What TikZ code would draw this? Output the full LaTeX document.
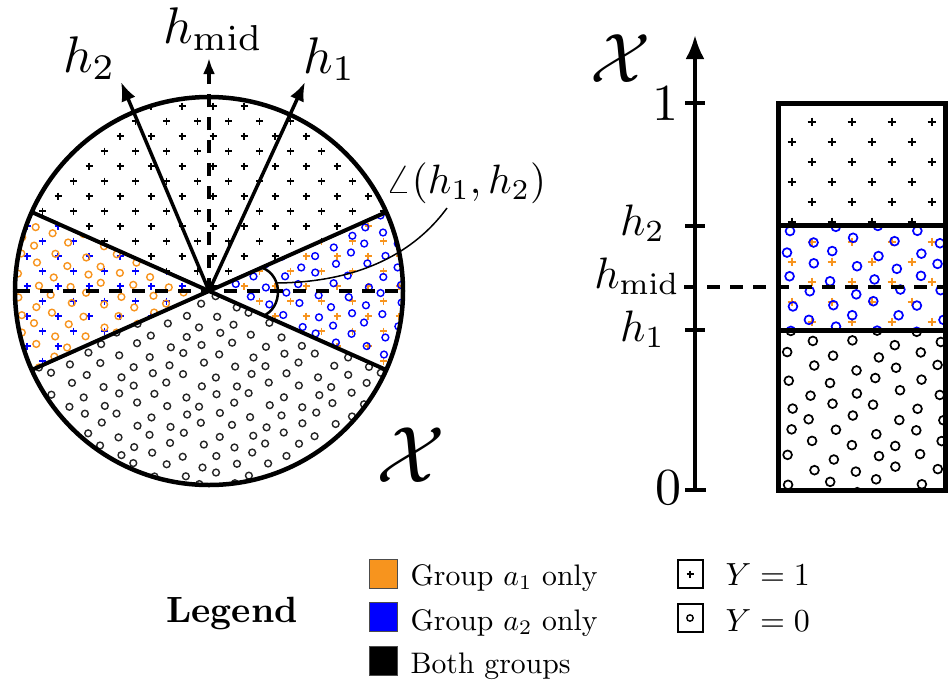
\documentclass[tikz,border=0pt]{standalone}
\usetikzlibrary{arrows.meta}
\definecolor{orng}{RGB}{247,148,30}
\definecolor{blu}{RGB}{0,0,255}

% plus grid over the disc
\newcommand\plusgrid[1]{%
 \foreach \k in {-11,...,15}{%
   \foreach \m in {-1,...,13}{%
     \pgfmathsetmacro\px{27+31*\m+15.5*mod(\k+22,2)}%
     \pgfmathsetmacro\py{256+15*\k}%
     \pic[#1] at (\px,\py) {pl};%
 }}}
% jittered circle grid over the disc
\newcommand\circgrid[1]{%
 \foreach \k in {0,...,40}{%
   \foreach \m in {-1,...,12}{%
     \pgfmathsetmacro\px{20+33*\m+16.5*mod(\k,2)+2.5*sin(137*\k+71*\m)}%
     \pgfmathsetmacro\py{95+10*\k+2.5*cos(53*\k+113*\m)}%
     \draw[#1,line width=1.4pt] (\px,\py) circle[radius=3.4];%
 }}}
% plus grid in the box
\newcommand\boxplusgrid[1]{%
 \foreach \k in {0,...,10}{%
   \foreach \m in {-1,...,4}{%
     \pgfmathsetmacro\px{812+40*\m-20*mod(\k,2)}%
     \pgfmathsetmacro\py{122+20*\k}%
     \pic[#1] at (\px,\py) {plb};%
 }}}
% circle grid in the box
\newcommand\boxcircgrid[1]{%
 \foreach \k in {0,...,22}{%
   \foreach \m in {-1,...,4}{%
     \pgfmathsetmacro\px{790+43*\m+21.5*mod(\k,2)+3*sin(137*\k+71*\m)}%
     \pgfmathsetmacro\py{228+12.7*\k+3*cos(53*\k+113*\m)}%
     \draw[#1,line width=1.7pt] (\px,\py) circle[radius=4.4];%
 }}}

\begin{document}
\begin{tikzpicture}[x=1pt,y=-1pt,
  pl/.pic={\draw[line width=1.4pt] (-3.5,0)--(3.5,0) (0,-3.5)--(0,3.5);},
  plb/.pic={\draw[line width=1.7pt] (-4.3,0)--(4.3,0) (0,-4.3)--(0,4.3);},
  bold line/.style={line width=4pt},
  hdash/.style={line width=4pt, dash pattern=on 13pt off 10pt},
  lbl/.style={anchor=base west, inner sep=0, scale=5.15},
  axlbl/.style={anchor=base east, inner sep=0, scale=4.4},
  numlbl/.style={anchor=east, inner sep=0, scale=5.2},
  legtxt/.style={anchor=base west, inner sep=0, scale=2.97},
  ytxt/.style={anchor=base west, inner sep=0, scale=3.2},
]
\useasboundingbox (0,0) rectangle (948,681);

% ---------- disc ----------
\coordinate (C) at (209,291);
\coordinate (P24) at (386.2,212.1);
\coordinate (P156) at (31.8,212.1);
\coordinate (P204) at (31.8,369.9);
\coordinate (P336) at (386.2,369.9);

\begin{scope}
  \clip (C) -- (P24) arc[start angle=-24, end angle=-156, radius=194] -- cycle;
  \plusgrid{black}
\end{scope}
\begin{scope}
  \clip (C) -- (P336) arc[start angle=24, end angle=-24, radius=194] -- cycle;
  \plusgrid{orng}
  \circgrid{blu}
\end{scope}
\begin{scope}
  \clip (C) -- (P156) arc[start angle=-156, end angle=-204, radius=194] -- cycle;
  \plusgrid{blu}
  \circgrid{orng}
\end{scope}
\begin{scope}
  \clip (C) -- (P204) arc[start angle=-204, end angle=-336, radius=194] -- cycle;
  \circgrid{black!85}
\end{scope}

\draw[hdash] (17,291) -- (401,291);
\draw[bold line] (P24) -- (C) -- (P156) (P204) -- (C) -- (P336);
\draw[line width=4.5pt] (C) circle[radius=194];

\coordinate (h1tip) at (305,82);
\coordinate (h2tip) at (121,82);
\coordinate (hmtip) at (209,58);
\draw[line width=3.5pt, -{Latex[length=19pt,width=15pt]}] (C) -- (h1tip);
\draw[line width=3.5pt, -{Latex[length=19pt,width=15pt]}] (C) -- (h2tip);
\draw[hdash, -{Latex[length=16pt,width=12pt]}] (C) -- (hmtip);

% angle arc and its label
\coordinate (A1) at (262.8,268);
\coordinate (A2) at (262.8,316);
\draw[line width=2.5pt] (A1) .. controls (283,276) and (283,308) .. (A2);
\coordinate (Aon) at (277,283);
\coordinate (Aend) at (447,208);
\draw[line width=1.5pt] (Aon) .. controls (370,282) and (420,245) .. (Aend);

\node[lbl] (lh2) at (62,72) {$h_2$};
\node[lbl] (lhm) at (162,43) {$h_{\mathrm{mid}}$};
\node[lbl] (lh1) at (302,73) {$h_1$};
\node[anchor=base west, inner sep=0, scale=4.1] (lang) at (385,193) {$\angle(h_1,h_2)$};
\node[inner sep=0, scale=8] (Xc) at (411,455) {$\mathcal{X}$};

% ---------- axis and box ----------
\begin{scope}
  \clip (778,103) rectangle (946,225);
  \boxplusgrid{black}
\end{scope}
\begin{scope}
  \clip (778,225) rectangle (946,330);
  \boxplusgrid{orng}
  \boxcircgrid{blu}
\end{scope}
\begin{scope}
  \clip (778,330) rectangle (946,490);
  \boxcircgrid{black}
\end{scope}
\draw[line width=5pt] (778,103) rectangle (945.5,490);
\draw[line width=5pt] (778,225) -- (945.5,225) (778,330) -- (945.5,330);

\coordinate (ax0) at (695,490);
\coordinate (axtop) at (695,35);
\draw[bold line, -{Latex[length=24pt,width=19pt]}] (ax0) -- (axtop);
\draw[bold line] (685,103) -- (705,103) (685,226) -- (705,226)
                 (685,330) -- (705,330) (685,490) -- (706,490);
\draw[hdash] (684,287) -- (948,287);

\node[numlbl] (n1) at (680,103) {1};
\node[numlbl] (n0) at (683,488) {0};
\node[axlbl] (ah2) at (666,235) {$h_2$};
\node[axlbl] (ahm) at (681,288) {$h_{\mathrm{mid}}$};
\node[axlbl] (ah1) at (666,341) {$h_1$};
\node[inner sep=0, scale=7] (Xa) at (621,59) {$\mathcal{X}$};

% ---------- legend ----------
\node[anchor=base, inner sep=0, scale=3.65, font=\bfseries] (leg) at (232,622) {Legend};
\node[draw=black!70, line width=1pt, fill=orng, minimum width=28pt, minimum height=29pt, inner sep=0] (sqa) at (383,574) {};
\node[draw=black!70, line width=1pt, fill=blu, minimum width=28pt, minimum height=29pt, inner sep=0] (sqb) at (383,617) {};
\node[draw=black!70, line width=1pt, fill=black, minimum width=28pt, minimum height=29pt, inner sep=0] (sqc) at (383,661) {};
\node[legtxt] (ta) at (410,585) {Group $a_1$ only};
\node[legtxt] (tb) at (410,630) {Group $a_2$ only};
\node[legtxt] (tc) at (410,673) {Both groups};

\node[draw, line width=2pt, fill=white, minimum width=25pt, minimum height=28pt, inner sep=0] (sy1) at (690,574) {};
\pic at (sy1.center) {pl};
\node[draw, line width=2pt, fill=white, minimum width=25pt, minimum height=28pt, inner sep=0] (sy0) at (690,618) {};
\draw[line width=1.4pt] (sy0.center) circle[radius=3.2];
\node[ytxt] (ty1) at (725,585) {$Y=1$};
\node[ytxt] (ty0) at (725,631) {$Y=0$};
\end{tikzpicture}
\end{document}
